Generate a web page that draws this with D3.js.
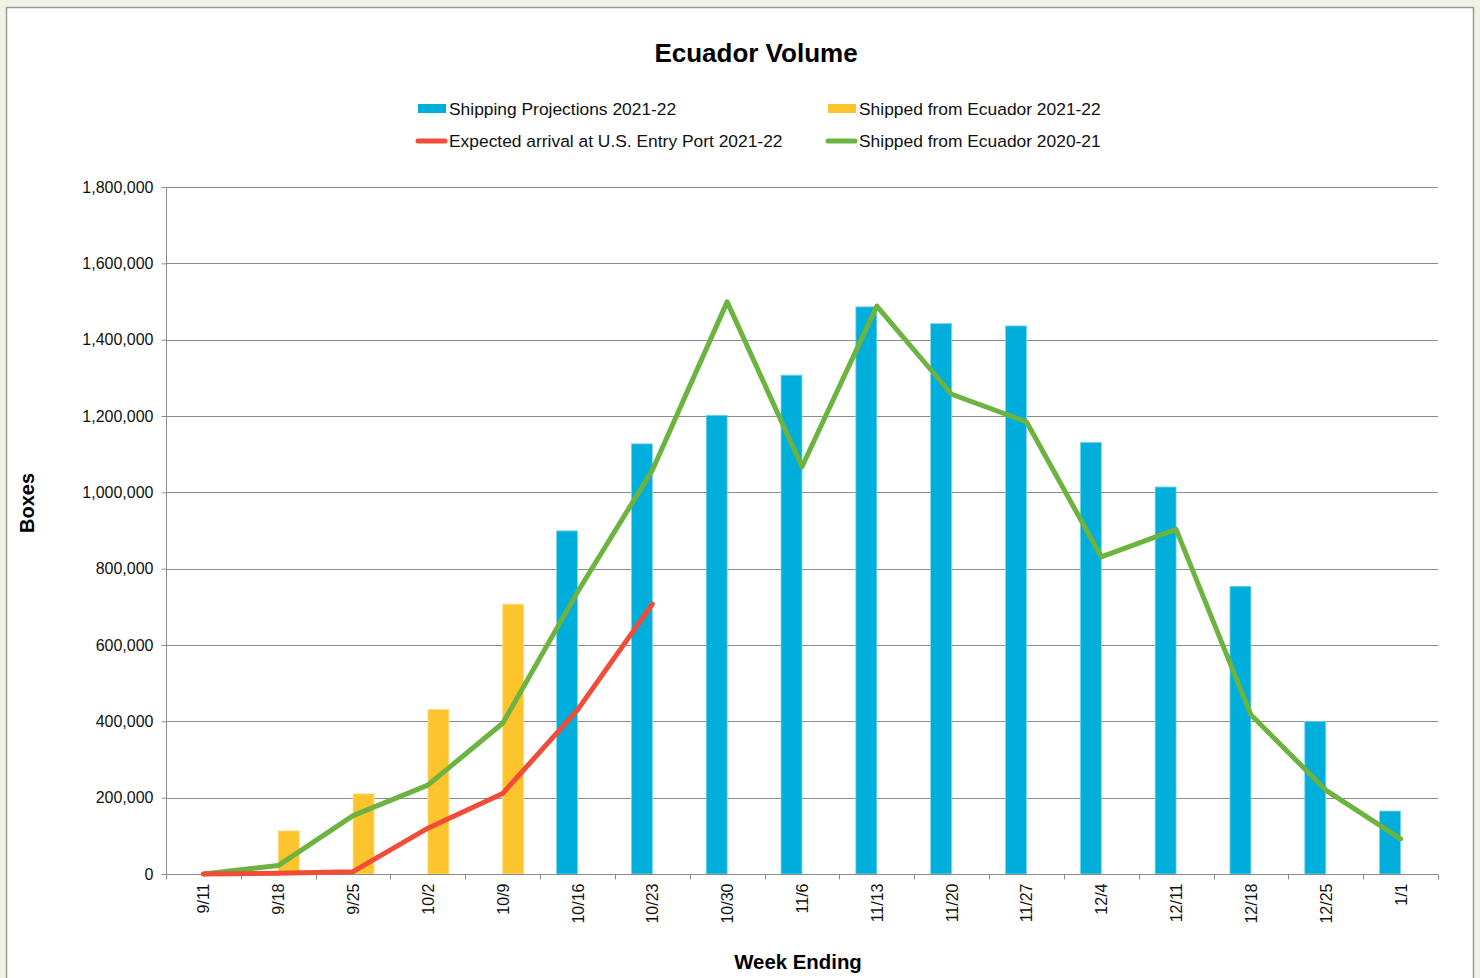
<!DOCTYPE html>
<html>
<head>
<meta charset="utf-8">
<script src="https://cdn.jsdelivr.net/npm/d3@7"></script>
<style>
  body { margin: 0; background: #f1f2e6; font-family: "Liberation Sans", Arial, sans-serif; }
  svg { display: block; }
</style>
</head>
<body>
<div id="chart"></div>
<script>
const WIDTH = 1480;
const HEIGHT = 978;

const weeks = ["9/11","9/18","9/25","10/2","10/9","10/16","10/23","10/30","11/6","11/13","11/20","11/27","12/4","12/11","12/18","12/25","1/1"];
// bars
const projections = [null,null,null,null,null,899000,1127000,1202000,1307000,1486000,1442000,1436000,1131000,1014000,754000,400000,165000];
const shipped2122 = [null,113000,210000,431000,707000,null,null,null,null,null,null,null,null,null,null,null,null];
// lines
const arrival2122 = [0,2000,6000,120000,211000,430000,707000];
const shipped2021 = [0,22000,153000,233000,395000,739000,1058000,1499000,1067000,1488000,1257000,1185000,831000,903000,417000,220000,92000];
const yTicks = [0,200000,400000,600000,800000,1000000,1200000,1400000,1600000,1800000];

const colors = {
    proj: "#00aedb",
    ship: "#fec42d",
    arrival: "#f04c37",
    prev: "#6cb33f"
};

function setup(){
    let svg = d3.select("#chart")
        .append("svg")
        .attr("width",WIDTH)
        .attr("height",HEIGHT);

    // white chart frame
    svg.append("rect")
        .attr("x",6.5).attr("y",7.5)
        .attr("width",1467).attr("height",HEIGHT)
        .style("fill","white")
        .style("stroke","#9a9a96")
        .style("stroke-width",1.5);

    let left = 166, right = 1438, top = 187, bottom = 874;

    let x = d3.scaleBand()
        .domain(weeks)
        .range([left,right]);
    let bw = x.bandwidth();
    let xs = d3.scaleBand()
        .domain(["proj","ship"])
        .range([bw/2-21,bw/2+21]);
    let y = d3.scaleLinear()
        .domain([0,1800000])
        .range([bottom,top]);

    // gridlines
    svg.append("g")
        .selectAll("line")
        .data(yTicks.slice(1))
        .enter()
        .append("line")
        .attr("x1",left).attr("x2",right)
        .attr("y1",d => Math.round(y(d))+0.5)
        .attr("y2",d => Math.round(y(d))+0.5)
        .style("stroke","#8c8c8c")
        .style("stroke-width",1);

    // y axis
    let yAxis = d3.axisLeft(y)
        .tickValues(yTicks)
        .tickSize(5)
        .tickPadding(8)
        .tickFormat(d3.format(","));
    let gy = svg.append("g")
        .attr("transform","translate("+(left+0.5)+",0)")
        .call(yAxis);
    gy.select(".domain").attr("d","M0,"+top+"V"+bottom).style("stroke","#8c8c8c");
    gy.selectAll(".tick line").style("stroke","#8c8c8c");
    gy.selectAll("text")
        .style("font-family","Liberation Sans, Arial, sans-serif")
        .style("font-size","16px")
        .style("fill","#111");

    // bars
    let bars = svg.append("g");
    bars.selectAll(".proj")
        .data(weeks.map((w,i) => [w,projections[i]]).filter(d => d[1] != null))
        .enter()
        .append("rect")
        .attr("class","proj")
        .attr("x",d => x(d[0])+xs("proj"))
        .attr("width",xs.bandwidth())
        .attr("y",d => y(d[1]))
        .attr("height",d => y(0)-y(d[1]))
        .style("fill",colors.proj)
        .style("stroke","#7fd6ec")
        .style("stroke-width",0.8);
    bars.selectAll(".ship")
        .data(weeks.map((w,i) => [w,shipped2122[i]]).filter(d => d[1] != null))
        .enter()
        .append("rect")
        .attr("class","ship")
        .attr("x",d => x(d[0])+xs("ship"))
        .attr("width",xs.bandwidth())
        .attr("y",d => y(d[1]))
        .attr("height",d => y(0)-y(d[1]))
        .style("fill",colors.ship)
        .style("stroke","#ffe08a")
        .style("stroke-width",0.8);

    // x axis
    let gx = svg.append("g")
        .attr("transform","translate(0,"+(bottom+0.5)+")");
    gx.append("line")
        .attr("x1",left).attr("x2",right)
        .style("stroke","#8c8c8c");
    gx.selectAll(".tk")
        .data(weeks.concat(["end"]))
        .enter()
        .append("line")
        .attr("x1",(d,i) => Math.round(left+i*bw)+0.5)
        .attr("x2",(d,i) => Math.round(left+i*bw)+0.5)
        .attr("y1",0).attr("y2",5)
        .style("stroke","#8c8c8c");
    gx.selectAll("text")
        .data(weeks)
        .enter()
        .append("text")
        .attr("transform",d => "translate("+(x(d)+bw/2+6)+",9) rotate(-90)")
        .attr("text-anchor","end")
        .style("font-size","16px")
        .style("fill","#111")
        .text(d => d);

    // lines
    let line = d3.line()
        .x((d,i) => x(weeks[i])+bw/2)
        .y(d => y(d));
    svg.append("path")
        .attr("d",line(shipped2021))
        .style("fill","none")
        .style("stroke",colors.prev)
        .style("stroke-width",5)
        .style("stroke-linejoin","round")
        .style("stroke-linecap","round");
    svg.append("path")
        .attr("d",line(arrival2122))
        .style("fill","none")
        .style("stroke",colors.arrival)
        .style("stroke-width",5)
        .style("stroke-linejoin","round")
        .style("stroke-linecap","round");

    // title and axis titles
    svg.append("text")
        .attr("x",756).attr("y",62)
        .attr("text-anchor","middle")
        .style("font-size","26px")
        .style("font-weight","bold")
        .text("Ecuador Volume");
    svg.append("text")
        .attr("transform","translate(34,503) rotate(-90)")
        .attr("text-anchor","middle")
        .style("font-size","20px")
        .style("font-weight","bold")
        .text("Boxes");
    svg.append("text")
        .attr("x",798).attr("y",969)
        .attr("text-anchor","middle")
        .style("font-size","20.4px")
        .style("font-weight","bold")
        .text("Week Ending");

    // legend
    let legendItems = [
        {label:"Shipping Projections 2021-22", color:colors.proj, type:"bar", x:418, y:109},
        {label:"Shipped from Ecuador 2021-22", color:colors.ship, type:"bar", x:828, y:109},
        {label:"Expected arrival at U.S. Entry Port 2021-22", color:colors.arrival, type:"line", x:418, y:141},
        {label:"Shipped from Ecuador 2020-21", color:colors.prev, type:"line", x:828, y:141}
    ];
    let legend = svg.append("g");
    legendItems.forEach(it => {
        let g = legend.append("g").attr("transform","translate("+it.x+","+it.y+")");
        if(it.type == "bar"){
            g.append("rect")
                .attr("x",0).attr("y",-5)
                .attr("width",28).attr("height",9)
                .style("fill",it.color);
        } else {
            g.append("line")
                .attr("x1",0).attr("x2",27)
                .attr("y1",0).attr("y2",0)
                .style("stroke",it.color)
                .style("stroke-width",5)
                .style("stroke-linecap","round");
        }
        g.append("text")
            .attr("x",31).attr("y",6)
            .style("font-size","17.4px")
            .style("fill","#111")
            .text(it.label);
    });
}

window.addEventListener("load",setup);
</script>
</body>
</html>
